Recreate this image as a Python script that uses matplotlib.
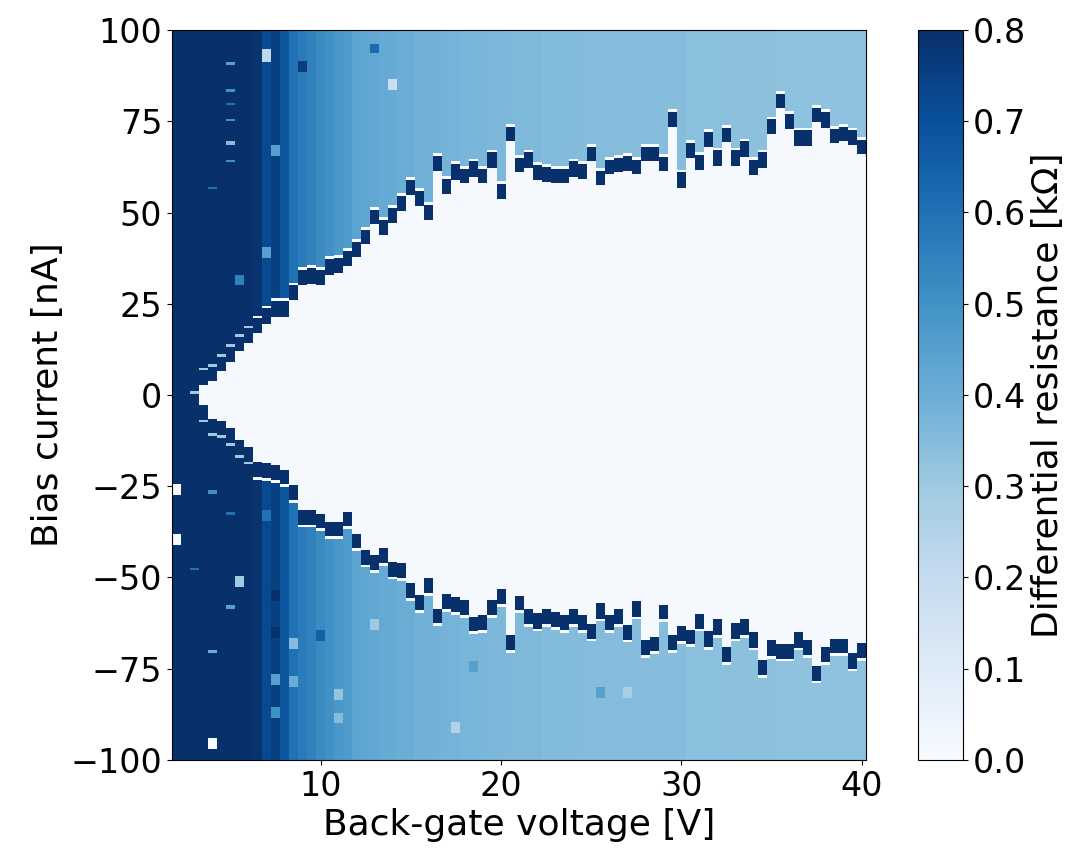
import numpy as np
import matplotlib
matplotlib.use("Agg")
import matplotlib.pyplot as plt

# gate voltage columns, 0.5 V apart
gate_v = np.arange(2.0, 40.01, 0.5)

# edges of the superconducting (zero resistance) region, nA, read per column
sc_top = [0, 0, 0, 2.7, 3.7, 6.4, 9.1, 11.9, 14.2, 16.9,
          19.6, 21.6, 21.6, 25.9, 30.2, 30.6, 30.2, 33.1, 33.5, 35.3,
          37.8, 41.2, 46.7, 43.8, 47.2, 50.4, 54.8, 51.8, 47.9, 61.5,
          55.1, 59.1, 58.0, 59.8, 58.0, 62.3, 53.7, 69.4, 61.0, 62.3,
          58.9, 58.3, 58.0, 58.0, 59.8, 59.2, 63.9, 57.4, 60.5, 61.0,
          61.4, 60.5, 63.9, 63.9, 61.2, 73.5, 56.8, 64.9, 61.7, 68.0,
          62.8, 69.2, 62.8, 65.3, 60.3, 62.3, 71.4, 78.4, 72.9, 68.3,
          68.3, 74.7, 73.3, 69.0, 69.4, 68.5, 65.9]
sc_bot = [0, 0, 0, -2.7, -6.4, -7.0, -9.1, -12.3, -14.2, -18.3,
          -18.7, -19.2, -20.5, -24.7, -31.5, -31.5, -32.4, -34.7, -34.7, -32.0,
          -37.9, -42.5, -43.8, -42.0, -45.7, -46.1, -51.6, -54.8, -50.2, -58.4,
          -54.6, -55.3, -56.2, -60.7, -60.3, -56.2, -53.2, -65.8, -54.9, -58.7,
          -59.8, -58.7, -59.4, -60.3, -58.7, -60.3, -62.7, -57.1, -60.3, -58.7,
          -63.0, -56.6, -67.1, -66.2, -57.5, -65.8, -63.3, -64.2, -60.0, -64.8,
          -61.6, -69.1, -62.6, -61.6, -65.1, -72.6, -67.3, -68.2, -68.2, -65.1,
          -67.1, -74.2, -69.1, -66.7, -66.7, -70.8, -67.9]

# normal state resistance per column, kOhm
r_normal = [1.2] * 9 + [0.79,
            0.72, 0.75, 0.68, 0.60, 0.57, 0.55, 0.52, 0.50, 0.48, 0.47,
            0.44, 0.43, 0.42, 0.415, 0.41, 0.40, 0.40, 0.39, 0.39, 0.385,
            0.38, 0.38, 0.375, 0.37, 0.37, 0.365, 0.365, 0.36, 0.36, 0.36,
            0.36, 0.355, 0.355, 0.355, 0.355, 0.35, 0.35, 0.35, 0.35, 0.35,
            0.35, 0.345, 0.345, 0.345, 0.345, 0.345, 0.345, 0.34, 0.34, 0.34,
            0.34, 0.34, 0.335, 0.335, 0.335, 0.335, 0.335, 0.33, 0.33, 0.33,
            0.33, 0.33, 0.33, 0.33, 0.33, 0.33, 0.33]

# odd pixels (gate V, bias nA, height nA, value)
spot_v = [5.0, 5.0, 5.0, 5.0, 5.0, 5.0, 4.0, 5.5, 7.0, 7.5, 7.0, 9.0, 14.0, 13.0,
          3.0, 2.0, 2.0, 5.5, 4.0, 4.0, 5.0, 7.0, 7.5, 7.5, 7.5, 7.5, 8.5, 8.5,
          10.0, 11.0, 13.0, 17.5, 4.0, 5.0, 3.0, 11.0, 25.5, 27.0, 18.5]
spot_i = [90.9, 83.3, 79.7, 75.3, 69.1, 64.2, 56.7, 31.5, 93.0, 67.0, 39.0, 90.0, 85.0, 95.0,
          0.7, -26.0, -39.5, -51.0, -95.5, -70.3, -58.0, -33.0, -55.0, -65.0, -78.0, -87.0, -68.0, -78.6,
          -66.0, -82.0, -63.0, -91.0, -26.5, -32.4, -47.7, -88.5, -81.5, -81.5, -74.5]
spot_h = [0.8, 0.8, 0.6, 0.8, 1.0, 0.8, 0.6, 2.5, 3.5, 3.0, 3.0, 3.0, 3.0, 2.5,
          0.8, 3.0, 3.0, 3.0, 3.0, 0.8, 0.8, 3.0, 3.0, 3.0, 3.0, 3.0, 3.0, 3.0,
          3.0, 3.0, 3.0, 3.0, 0.8, 0.8, 0.6, 3.0, 3.0, 3.0, 3.0]
spot_val = [0.45, 0.5, 0.6, 0.5, 0.35, 0.5, 0.6, 0.55, 0.22, 0.45, 0.45, 0.76, 0.18, 0.62,
            0.3, 0.0, 0.0, 0.3, 0.0, 0.4, 0.45, 0.6, 0.85, 0.85, 0.45, 0.5, 0.35, 0.4,
            0.65, 0.32, 0.3, 0.25, 0.5, 0.6, 0.6, 0.35, 0.45, 0.28, 0.45]

PEAK_H = 4.1     # height of the switching peak
DIP_H = 0.75     # thin dip just outside the peak

bias_edges = np.arange(-100, 100.001, 0.25)
bias = 0.5 * (bias_edges[1:] + bias_edges[:-1])
v_edges = np.append(gate_v - 0.25, gate_v[-1] + 0.25)

res = np.zeros((len(bias), len(gate_v)))
for j in range(len(gate_v)):
    col = np.full(len(bias), r_normal[j])
    top, bot = sc_top[j], sc_bot[j]
    if top > bot:
        dip = 0.3 if r_normal[j] > 0.8 else 0.0
        col[(bias > top + PEAK_H) & (bias < top + PEAK_H + DIP_H)] = dip
        col[(bias >= top) & (bias <= top + PEAK_H)] = 1.0
        col[(bias < bot - PEAK_H) & (bias > bot - PEAK_H - DIP_H)] = dip
        col[(bias <= bot) & (bias >= bot - PEAK_H)] = 1.0
        col[(bias > bot) & (bias < top)] = 0.012
    res[:, j] = col

for v, i, h, val in zip(spot_v, spot_i, spot_h, spot_val):
    j = int(round((v - gate_v[0]) / 0.5))
    res[np.abs(bias - i) <= h / 2, j] = val

fig = plt.figure(figsize=(10.66, 8.5), dpi=100)
ax = fig.add_axes([0.1614, 0.1059, 0.651, 0.8588])
cax = fig.add_axes([0.861, 0.1059, 0.042, 0.8588])

mesh = ax.pcolormesh(v_edges, bias_edges, res, cmap="Blues", vmin=0, vmax=0.8)
ax.set_xlim(v_edges[0], v_edges[-1])
ax.set_ylim(-100, 100)
ax.set_xticks([10, 20, 30, 40])
ax.set_yticks([-100, -75, -50, -25, 0, 25, 50, 75, 100])
ax.tick_params(labelsize=24)
ax.set_xlabel("Back-gate voltage [V]", fontsize=26)
ax.set_ylabel("Bias current [nA]", fontsize=26)

cb = fig.colorbar(mesh, cax=cax)
cb.set_ticks(np.arange(0, 0.81, 0.1))
cb.ax.yaxis.set_major_formatter(matplotlib.ticker.FormatStrFormatter("%.1f"))
cb.ax.tick_params(labelsize=24)
cb.set_label("Differential resistance [kΩ]", fontsize=26)

fig.savefig("out.png", dpi=100)
